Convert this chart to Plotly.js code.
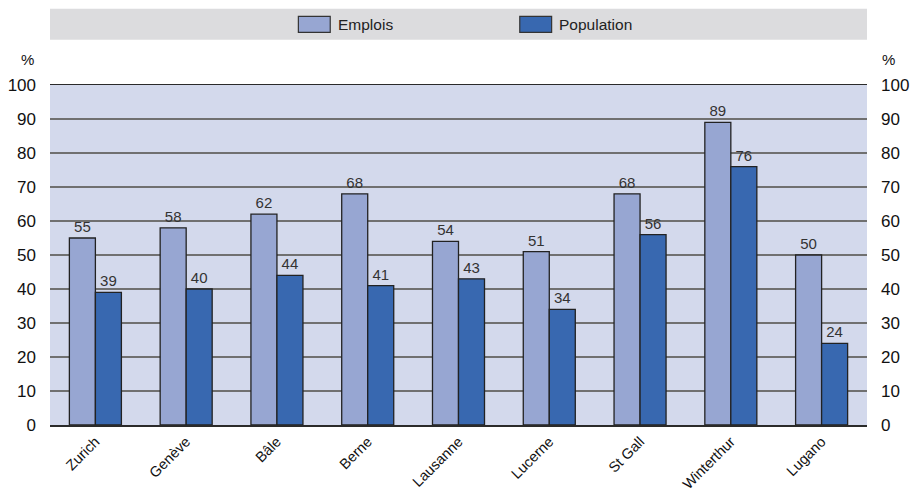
<!DOCTYPE html>
<html>
<head>
<meta charset="utf-8">
<script src="https://cdn.plot.ly/plotly-3.0.1.min.js"></script>
<style>
  html, body { margin: 0; padding: 0; background: #fff; }
  #chart { width: 919px; height: 495px; }
</style>
</head>
<body>
<div id="chart"></div>
<script>
// Share of jobs and population by city (%)
const cities = ['Zurich', 'Genève', 'Bâle', 'Berne', 'Lausanne', 'Lucerne', 'St Gall', 'Winterthur', 'Lugano'];
const emplois = [55, 58, 62, 68, 54, 51, 68, 89, 50];
const population = [39, 40, 44, 41, 43, 34, 56, 76, 24];
const yTicks = [0, 10, 20, 30, 40, 50, 60, 70, 80, 90, 100];
const seriesNames = ['Emplois', 'Population'];
const seriesColors = ['#97a6d2', '#3868b0'];

const FONT = 'Liberation Sans, Arial, sans-serif';
const labelFont = { family: FONT, size: 15, color: '#333' };

function barTrace(name, values, color) {
  return {
    type: 'bar',
    name: name,
    x: cities,
    y: values,
    text: values.map(String),
    textposition: 'outside',
    textfont: labelFont,
    cliponaxis: false,
    marker: { color: color, line: { color: '#222', width: 1.3 } },
    showlegend: false,
    hoverinfo: 'x+y+name'
  };
}

const traces = [
  barTrace(seriesNames[0], emplois, seriesColors[0]),
  barTrace(seriesNames[1], population, seriesColors[1]),
  // carries the right-hand axis
  { type: 'scatter', x: cities, y: emplois, yaxis: 'y2', mode: 'none',
    showlegend: false, hoverinfo: 'skip' }
];

const tickFont = { family: FONT, size: 17, color: '#111' };

// Legend band with custom swatches
const shapes = [
  { type: 'rect', xref: 'paper', yref: 'paper', x0: 0, x1: 1, y0: 1.133, y1: 1.224,
    fillcolor: '#dcdcde', line: { width: 0 }, layer: 'below' }
];
const annotations = [];
const legendX = [0.304, 0.575];
seriesNames.forEach((n, i) => {
  shapes.push({ type: 'rect', xref: 'paper', yref: 'paper',
    x0: legendX[i], x1: legendX[i] + 0.039, y0: 1.155, y1: 1.202,
    fillcolor: seriesColors[i], line: { color: '#333', width: 1.2 } });
  annotations.push({ xref: 'paper', yref: 'paper', x: legendX[i] + 0.046, y: 1.179,
    xanchor: 'left', yanchor: 'middle', text: n, showarrow: false,
    font: { family: FONT, size: 15.5, color: '#222' } });
});
// unit labels above each axis
annotations.push({ xref: 'paper', yref: 'paper', x: -0.027, y: 1.074, xanchor: 'center', yanchor: 'middle',
  text: '%', showarrow: false, font: { family: FONT, size: 15, color: '#111' } });
annotations.push({ xref: 'paper', yref: 'paper', x: 1.026, y: 1.074, xanchor: 'center', yanchor: 'middle',
  text: '%', showarrow: false, font: { family: FONT, size: 15, color: '#111' } });

const layout = {
  width: 919,
  height: 495,
  margin: { l: 50, r: 52, t: 85, b: 70 },
  paper_bgcolor: '#ffffff',
  plot_bgcolor: '#d3d9ec',
  barmode: 'group',
  bargap: 0.427,
  bargroupgap: 0,
  showlegend: false,
  font: { family: FONT },
  xaxis: {
    type: 'category',
    tickangle: -45,
    tickfont: { family: FONT, size: 14.5, color: '#111' },
    ticks: '',
    ticklabelstandoff: 1,
    showgrid: false,
    showline: true,
    mirror: true,
    linecolor: '#2a2a2a',
    linewidth: 1.5,
    fixedrange: true
  },
  yaxis: {
    range: [0, 100],
    tickvals: yTicks,
    ticktext: yTicks.map(String),
    tickfont: tickFont,
    ticks: '',
    ticklabelstandoff: 13,
    showgrid: true,
    gridcolor: '#707070',
    gridwidth: 1.5,
    zeroline: false,
    showline: false,
    fixedrange: true
  },
  yaxis2: {
    overlaying: 'y',
    side: 'right',
    range: [0, 100],
    tickvals: yTicks,
    ticktext: yTicks.map(String),
    tickfont: tickFont,
    ticks: '',
    ticklabelstandoff: 13,
    showgrid: false,
    zeroline: false,
    showline: false,
    fixedrange: true
  },
  shapes: shapes,
  annotations: annotations
};

Plotly.newPlot('chart', traces, layout, { displayModeBar: false, staticPlot: true });
</script>
</body>
</html>
